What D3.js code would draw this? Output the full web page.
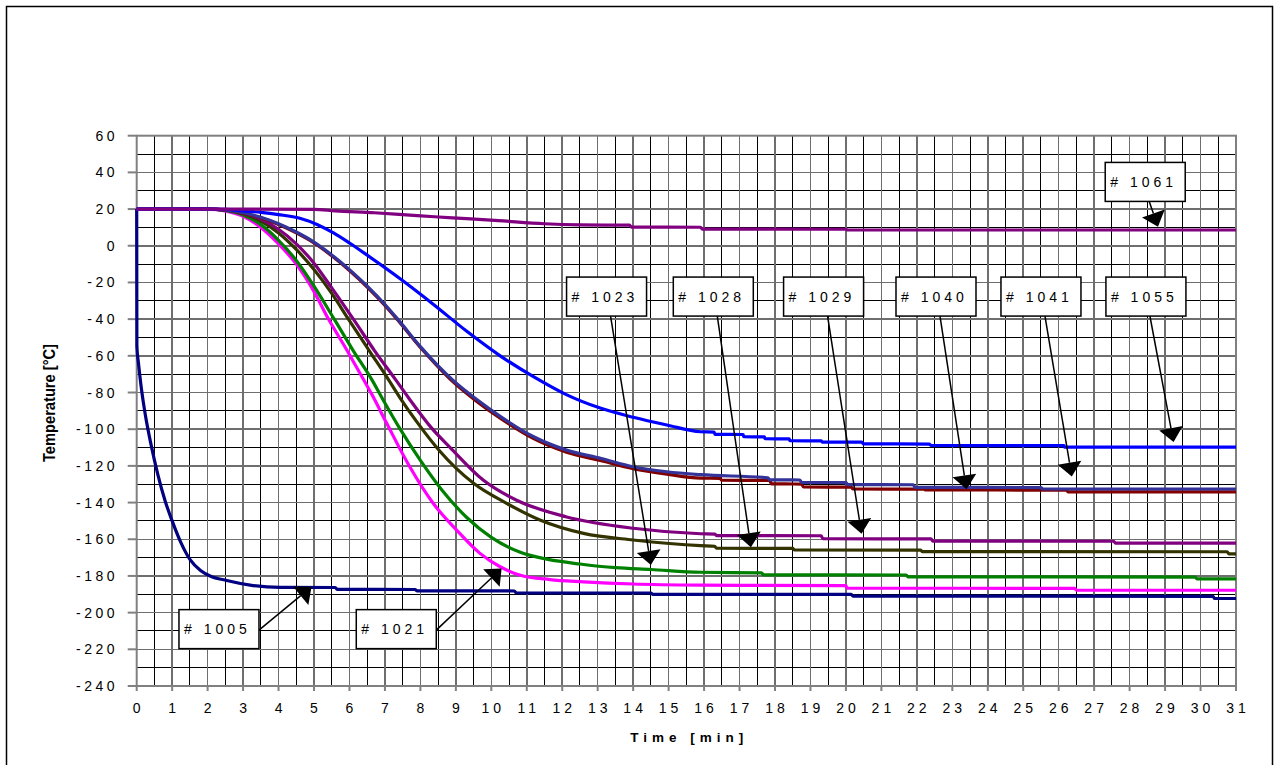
<!DOCTYPE html>
<html lang="en">
<head>
<meta charset="UTF-8">
<title>Temperature vs time</title>
<script src="https://cdn.jsdelivr.net/npm/d3@7"></script>
<style>
  body { margin: 0; background: #fff; }
  text { font-family: "Liberation Sans", Arial, sans-serif; }
</style>
</head>
<body>
<script>

// ---- data ----
var xTicks = [0, 1, 2, 3, 4, 5, 6, 7, 8, 9, 10, 11, 12, 13, 14, 15, 16, 17, 18, 19, 20,
              21, 22, 23, 24, 25, 26, 27, 28, 29, 30, 31];
var yTicks = [-240, -220, -200, -180, -160, -140, -120, -100, -80, -60, -40, -20, 0, 20, 40, 60];

var seriesNames = ['# 1005', '# 1021', '# 1023', '# 1028', '# 1029', '# 1040', '# 1041', '# 1055', '# 1061'];
var seriesColors = ['#000080', '#ff00ff', '#008000', '#333300', '#800080', '#800000', '#333399', '#0000ff', '#800080'];

// [time min, temperature C]
var s1005 = [[0, 20], [0.005, -55], [0.05, -64], [0.12, -76], [0.25, -93], [0.4, -108], [0.6, -125],
             [0.8, -139], [1, -150], [1.25, -162], [1.5, -171], [1.8, -177], [2.07, -180], [2.54, -182.5],
             [3.2, -185], [4.04, -186.2], [5.6, -186.3], [5.65, -187.3], [7.85, -187.4], [7.9, -188.1],
             [10.65, -188.2], [10.7, -189.2], [14.5, -189.3], [14.55, -190], [20.15, -190.1], [20.2, -191],
             [30.35, -191.1], [30.4, -192.3], [31, -192.3]];
var s1021 = [[0, 20], [2, 20], [2.5, 19], [3, 16], [3.5, 10], [4, 1], [4.5, -10], [5, -25], [5.38, -39],
             [5.9, -56], [6.4, -73], [6.63, -81], [7.05, -96.8], [7.7, -120.5], [8.36, -140.4], [9.02, -155],
             [9.68, -167.7], [10.25, -175], [10.8, -179.5], [11.65, -182], [12.6, -183.2], [14, -184.4],
             [15.9, -185], [20, -185.3], [20.03, -186.6], [26.45, -186.8], [26.5, -187.7], [31, -187.8]];
var s1023 = [[0, 20], [2, 20], [2.5, 19.2], [3, 16.8], [3.5, 11.5], [4, 3], [4.5, -8], [5, -22], [5.57, -40],
             [6.1, -57], [6.63, -73], [6.92, -83], [7.4, -99], [8, -117], [8.6, -133], [9.3, -148], [10, -159],
             [10.8, -167], [11.6, -171], [12.5, -173.5], [13.5, -175.5], [14.5, -176.5], [15.9, -178],
             [17.62, -178.3], [17.67, -179.4], [21.7, -179.5], [21.75, -180.5], [29.85, -180.6], [29.9, -181.6],
             [31, -181.6]];
var s1028 = [[0, 20], [2, 20], [2.5, 19.5], [3, 17.5], [3.5, 13.5], [4, 7], [4.5, -2], [5, -13], [5.5, -26],
             [5.97, -40], [6.55, -57], [7.1, -73], [7.43, -83], [7.9, -96], [8.55, -112], [9.5, -129.5],
             [10.43, -140.4], [11.37, -149.5], [12.6, -156.8], [14, -160.4], [15.9, -163.5], [16.3, -163.8],
             [16.35, -164.9], [18.5, -165], [18.55, -165.8], [22.1, -165.9], [22.15, -166.7], [30.75, -166.8],
             [30.8, -168], [31, -168]];
var s1029 = [[0, 20], [2, 20], [2.5, 19.6], [3, 17.8], [3.5, 14.5], [4, 9], [4.5, 1], [5, -9.5], [5.5, -23],
             [6.11, -40], [6.7, -57], [7.3, -73], [7.67, -83], [8.3, -99], [8.84, -110], [9.77, -127.7],
             [10.7, -138.6], [12.1, -147.7], [14, -154], [15.9, -157], [16.3, -157.2], [16.35, -158],
             [19.3, -158.1], [19.35, -159.7], [22.4, -159.8], [22.45, -161], [27.55, -161.1], [27.6, -162.1],
             [31, -162.1]];
var s1040 = [[0, 20], [2, 20], [2.5, 19.5], [3, 17.8], [3.5, 15.2], [4, 11.6], [4.5, 7], [5, 1.5], [5.5, -5.5],
             [6, -13.5], [6.5, -22.5], [7, -32.5], [7.36, -40.5], [8, -55.5], [8.5, -66], [8.9, -73.8],
             [9.6, -85], [10.25, -94], [11.18, -105], [12.12, -112.5], [13.1, -117.2], [14, -121.5],
             [14.95, -124.5], [15.9, -126.7], [16.45, -126.8], [16.5, -127.8], [17.85, -127.9], [17.9, -129.8],
             [18.75, -129.9], [18.8, -131.5], [20.15, -131.6], [20.2, -132.6], [22.2, -132.7], [22.25, -133.1],
             [26.22, -133.2], [26.27, -134.2], [31, -134.2]];
var s1041 = [[0, 20], [2, 20], [2.5, 19.6], [3, 18], [3.5, 15.5], [4, 12], [4.5, 7.5], [5, 2], [5.5, -5],
             [6, -13], [6.5, -22], [7, -32], [7.36, -40], [8, -55], [8.5, -65.5], [8.9, -73], [9.6, -84],
             [10.25, -93], [11.18, -104], [12.12, -111.4], [13.1, -116], [14, -120.5], [14.95, -123.2],
             [15.9, -124.8], [17.8, -126.5], [17.85, -127.6], [18.7, -127.7], [18.75, -129], [20, -129.1],
             [20.05, -130.2], [21.9, -130.3], [21.95, -131.7], [25.5, -131.8], [25.55, -132.6], [31, -132.6]];
var s1055 = [[0, 20], [2, 20], [2.5, 19.8], [3, 19], [3.5, 18.2], [4, 17], [4.6, 15], [5.1, 11.5], [5.55, 7],
             [6, 1.5], [6.49, -5], [7.43, -18], [8.37, -32], [9.3, -46.5], [10.25, -60], [11.2, -71.5],
             [12.1, -81], [13.07, -88.5], [14, -93.5], [14.95, -97.7], [15.9, -101.4], [16.28, -101.6],
             [16.31, -102.8], [17.1, -102.9], [17.12, -104.1], [17.7, -104.2], [17.72, -105.2], [18.4, -105.3],
             [18.42, -106.3], [19.3, -106.4], [19.33, -107], [20.45, -107.1], [20.49, -108], [22.35, -108.1],
             [22.4, -108.9], [26.15, -109], [26.17, -109.8], [31, -109.8]];
var s1061 = [[0, 20], [3, 20], [5, 19.8], [5.6, 19], [6.7, 18], [7.5, 17], [8.4, 15.8], [9.3, 14.8],
             [10.2, 13.7], [11.5, 12], [12.5, 11.4], [13.9, 11.2], [13.95, 10.2], [15.9, 10.1], [15.95, 9.1],
             [20, 9], [20.05, 8.6], [31, 8.6]];

var series = [s1005, s1021, s1023, s1028, s1029, s1040, s1041, s1055, s1061];

// label boxes (centre, in data units) and arrow tips (data units)
var boxT = [2.32, 7.32, 13.25, 16.26, 19.37, 22.54, 25.5, 28.46, 28.44];
var boxV = [-209, -209, -27.7, -27.7, -27.7, -27.7, -27.7, -27.7, 34.8];
var tipT = [4.93, 10.29, 14.5, 17.32, 20.44, 23.4, 26.37, 29.24, 28.8];
var tipV = [-185.9, -175.9, -174, -164.3, -157, -132.8, -125.8, -107, 10.4];
var exitSide = ['right', 'right', 'bottom', 'bottom', 'bottom', 'bottom', 'bottom', 'bottom', 'bottom'];

// ---- chart ----
var W = 1276, H = 765;
var x = d3.scaleLinear().domain([0, 31]).range([136.7, 1236]);
var y = d3.scaleLinear().domain([-240, 60]).range([686, 135.7]);

var svg = d3.select('body').append('svg')
    .attr('width', W)
    .attr('height', H);

// outer frame (bottom edge off the picture)
svg.append('rect')
    .attr('x', 6.5).attr('y', 6.5)
    .attr('width', 1266).attr('height', 800)
    .attr('fill', '#fff')
    .attr('stroke', '#000')
    .attr('stroke-width', 1.5);

var grid = svg.append('g').attr('shape-rendering', 'crispEdges');

// minor grid (black) on the half steps
grid.selectAll('.vmin')
    .data(d3.range(0.5, 31, 1))
    .enter().append('line')
    .attr('x1', d => x(d)).attr('x2', d => x(d))
    .attr('y1', y(60)).attr('y2', y(-240))
    .attr('stroke', '#000');
grid.selectAll('.hmin')
    .data(d3.range(-230, 60, 20))
    .enter().append('line')
    .attr('x1', x(0)).attr('x2', x(31))
    .attr('y1', d => y(d)).attr('y2', d => y(d))
    .attr('stroke', '#000');

// major grid (grey) at labelled values
grid.selectAll('.vmaj')
    .data(xTicks.slice(1, -1))
    .enter().append('line')
    .attr('x1', d => x(d)).attr('x2', d => x(d))
    .attr('y1', y(60)).attr('y2', y(-240))
    .attr('stroke', '#6e6e6e')
    .attr('stroke-width', 1.5);
grid.selectAll('.hmaj')
    .data(yTicks.slice(1, -1))
    .enter().append('line')
    .attr('x1', x(0)).attr('x2', x(31))
    .attr('y1', d => y(d)).attr('y2', d => y(d))
    .attr('stroke', '#6e6e6e')
    .attr('stroke-width', 1.5);

// plot border
svg.append('rect')
    .attr('x', x(0)).attr('y', y(60))
    .attr('width', x(31) - x(0)).attr('height', y(-240) - y(60))
    .attr('fill', 'none')
    .attr('stroke', '#808080')
    .attr('stroke-width', 2);

// y axis ticks and labels
svg.selectAll('.ytick')
    .data(yTicks)
    .enter().append('line')
    .attr('x1', x(0) - 9).attr('x2', x(0))
    .attr('y1', d => y(d)).attr('y2', d => y(d))
    .attr('stroke', '#808080')
    .attr('stroke-width', 2);
svg.selectAll('.ylab')
    .data(yTicks)
    .enter().append('text')
    .attr('x', 118)
    .attr('y', d => y(d) + 5)
    .attr('text-anchor', 'end')
    .attr('font-size', '14px')
    .attr('letter-spacing', '3.5px')
    .text(d => d);

// x axis ticks and labels
svg.selectAll('.xtick')
    .data(xTicks)
    .enter().append('line')
    .attr('x1', d => x(d)).attr('x2', d => x(d))
    .attr('y1', y(-240)).attr('y2', y(-240) + 5)
    .attr('stroke', '#808080')
    .attr('stroke-width', 2);
svg.selectAll('.xlab')
    .data(xTicks)
    .enter().append('text')
    .attr('x', d => x(d) + 2)
    .attr('y', 713)
    .attr('text-anchor', 'middle')
    .attr('font-size', '14px')
    .attr('letter-spacing', '4px')
    .text(d => d);

// axis titles
svg.append('text')
    .attr('x', x(15.5) + 3)
    .attr('y', 742)
    .attr('text-anchor', 'middle')
    .attr('font-size', '13.5px')
    .attr('font-weight', 'bold')
    .attr('letter-spacing', '5px')
    .text('Time [min]');

svg.append('text')
    .attr('transform', 'translate(55, 403) rotate(-90)')
    .attr('text-anchor', 'middle')
    .attr('font-family', '"Liberation Sans Narrow", "Arial Narrow", "Liberation Sans", sans-serif')
    .attr('font-size', '16px')
    .attr('font-weight', 'bold')
    .attr('textLength', 118)
    .attr('lengthAdjust', 'spacingAndGlyphs')
    .text('Temperature [°C]');

// curves
var line = d3.line()
    .x(d => x(d[0]))
    .y(d => y(d[1]))
    .curve(d3.curveMonotoneX);

svg.append('g').selectAll('path')
    .data(series)
    .enter().append('path')
    .attr('d', line)
    .attr('fill', 'none')
    .attr('stroke', (d, i) => seriesColors[i])
    .attr('stroke-width', 3.2);

// arrows and label boxes
var boxW = 80, boxH = 39, headL = 14, headW = 12;
var notes = svg.append('g');

seriesNames.forEach(function (name, i) {
    var cx = x(boxT[i]), cy = y(boxV[i]);
    var sx = exitSide[i] === 'right' ? cx + boxW / 2 : cx + 4;
    var sy = exitSide[i] === 'right' ? cy + 1 : cy + boxH / 2;
    var tx = x(tipT[i]), ty = y(tipV[i]);
    var dx = tx - sx, dy = ty - sy, len = Math.sqrt(dx * dx + dy * dy);
    var ux = dx / len, uy = dy / len;
    var bx = tx - ux * headL, by = ty - uy * headL;

    notes.append('line')
        .attr('x1', sx).attr('y1', sy)
        .attr('x2', bx).attr('y2', by)
        .attr('stroke', '#000')
        .attr('stroke-width', 1.5);
    notes.append('polygon')
        .attr('points', [[tx, ty], [bx - uy * headW, by + ux * headW], [bx + uy * headW, by - ux * headW]].join(' '))
        .attr('fill', '#000');

    notes.append('rect')
        .attr('x', cx - boxW / 2).attr('y', cy - boxH / 2)
        .attr('width', boxW).attr('height', boxH)
        .attr('fill', '#fff')
        .attr('stroke', '#000')
        .attr('stroke-width', 1.5);
    notes.append('text')
        .attr('x', cx - boxW / 2 + 5)
        .attr('y', cy + 5)
        .attr('font-size', '14px')
        .attr('letter-spacing', '4px')
        .text(name);
});

</script>
</body>
</html>
